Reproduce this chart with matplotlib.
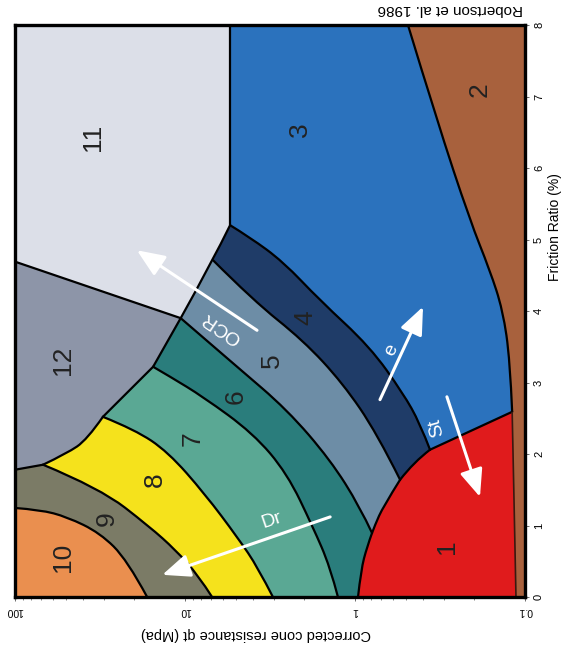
import matplotlib
matplotlib.use("Agg")
import matplotlib.pyplot as plt
from matplotlib.path import Path
from matplotlib.patches import PathPatch

plt.rcParams['font.family'] = ['Liberation Sans', 'DejaVu Sans']

# zone boundaries as (friction ratio %, qt MPa) pairs
b11_3 = [(8.0, 5.43), (5.20, 5.43)]
b11_band = [(5.20, 5.43), (4.71, 6.84), (3.90, 10.6)]
b11_12 = [(3.90, 10.6), (4.69, 100)]
b12_9 = [(1.78, 100), (1.85, 68.4)]
b12_8 = [(1.85, 68.4), (2.01, 49.4), (2.20, 37.7), (2.52, 30.4)]
b12_7 = [(2.52, 30.4), (3.22, 15.4)]
b12_6 = [(3.22, 15.4), (3.90, 10.6)]
b2 = [(8.0, 0.488), (6.67, 0.33), (5.27, 0.211), (4.57, 0.161), (4.01, 0.135),
      (3.31, 0.1225), (2.59, 0.119)]
b2_low = [(2.59, 0.119), (1.36, 0.116), (0, 0.113)]
b13 = [(2.06, 0.362), (2.59, 0.119)]
red_a = [(0, 0.96), (0.38, 0.922), (0.70, 0.85), (0.895, 0.794)]
red_b = [(0.895, 0.794), (1.01, 0.762), (1.26, 0.684), (1.64, 0.543)]
red_c = [(1.64, 0.543), (1.89, 0.45), (2.06, 0.362)]
b43 = [(5.20, 5.43), (5.03, 4.15), (4.69, 2.65), (4.15, 1.61), (3.50, 0.817),
       (2.85, 0.522), (2.43, 0.415), (2.06, 0.362)]
b54 = [(4.71, 6.84), (4.15, 3.98), (3.59, 2.02), (2.99, 1.18), (2.29, 0.743),
       (1.64, 0.543)]
b65 = [(3.90, 10.6), (3.22, 4.94), (2.62, 2.51), (1.92, 1.40), (1.26, 0.935),
       (0.895, 0.794)]
b76 = [(3.22, 15.4), (3.08, 12.2), (2.80, 7.83), (2.29, 3.98), (1.73, 2.51),
       (0.98, 1.77), (0.42, 1.40), (0, 1.26)]
b87 = [(2.52, 30.4), (2.34, 19.7), (2.03, 12.6), (1.44, 7.63), (0.825, 4.88),
       (0.41, 3.72), (0, 3.04)]
b98 = [(1.85, 68.4), (1.52, 31.6), (0.98, 16.1), (0.66, 11.4), (0.31, 8.39), (0, 6.93)]
b109 = [(1.245, 100), (1.22, 71.3), (1.12, 49.4), (0.895, 31.6), (0.52, 21.9), (0, 16.7)]

zone_colors = {
    1: '#e01b1c', 2: '#a8613d', 3: '#2b72bd', 4: '#1f3c68', 5: '#6d8da6',
    6: '#2a7d7c', 7: '#5aa894', 8: '#f5e21c', 9: '#7b7b66', 10: '#ea8f4f',
    11: '#dcdfe8', 12: '#8d95a8',
}

# label positions (Rf, qt)
zone_labels = {
    1: (0.70, 0.288), 2: (7.09, 0.184), 3: (6.53, 2.11), 4: (3.90, 1.97),
    5: (3.31, 3.08), 6: (2.80, 5.01), 7: (2.22, 8.97), 8: (1.64, 15.0),
    9: (1.10, 28.8), 10: (0.56, 52.2), 11: (6.43, 34.8), 12: (3.31, 52.2),
}

# trend arrows: name, tail (Rf, qt), head (Rf, qt), text (Rf, qt), text angle
arrows = [
    ('Dr', (1.12, 1.40), (0.31, 13.6), (1.07, 3.07), 19),
    ('OCR', (3.73, 3.77), (4.85, 19.2), (3.77, 6.06), 146),
    ('e', (2.76, 0.713), (4.06, 0.398), (3.45, 0.615), 65),
    ('St', (2.80, 0.288), (1.40, 0.184), (2.38, 0.33), 105),
]

qt_ticks = [100, 10, 1, 0.1]
qt_ticklabels = ['100', '10', '1', '0.1']
rf_ticks = [0, 1, 2, 3, 4, 5, 6, 7, 8]


def rev(pts):
    return pts[::-1]


def edge(*pts):
    # straight runs along the frame, one chain per side
    return [[pts[i], pts[i + 1]] for i in range(len(pts) - 1)]


def xy(p):
    # plot x is qt, plot y is Rf
    return (p[1], p[0])


def mid(a, b):
    # midpoint on the log qt axis
    return ((a[0] * b[0]) ** 0.5, (a[1] + b[1]) / 2)


def chain_codes(pts):
    # smooth chain through the points, as quadratic curve pieces
    pts = [xy(p) for p in pts]
    if len(pts) == 2:
        return [pts[1]], [Path.LINETO]
    verts, codes = [], []
    for i in range(1, len(pts) - 1):
        end = pts[i + 1] if i == len(pts) - 2 else mid(pts[i], pts[i + 1])
        verts += [pts[i], end]
        codes += [Path.CURVE3, Path.CURVE3]
    return verts, codes


def chain_path(chains, closed=False):
    verts, codes = [xy(chains[0][0])], [Path.MOVETO]
    for c in chains:
        v, k = chain_codes(c)
        verts += v
        codes += k
    if closed:
        verts.append(verts[0])
        codes.append(Path.CLOSEPOLY)
    return Path(verts, codes)


zones = {
    11: edge((8.0, 100), (8.0, 5.43)) + [b11_3, b11_band, b11_12]
        + edge((4.69, 100), (8.0, 100)),
    12: [b12_9, b12_8, b12_7, b12_6, b11_12] + edge((4.69, 100), (1.78, 100)),
    3: edge((8.0, 5.43), (8.0, 0.488)) + [b2, rev(b13), rev(b43)],
    2: [b2, b2_low] + edge((0, 0.113), (0, 0.1), (8.0, 0.1), (8.0, 0.488)),
    1: [red_a, red_b, red_c, b13, b2_low] + edge((0, 0.113), (0, 0.96)),
    4: [b43, rev(red_c), rev(b54)] + edge((4.71, 6.84), (5.20, 5.43)),
    5: [b54, rev(red_b), rev(b65)] + edge((3.90, 10.6), (4.71, 6.84)),
    6: [b65, rev(red_a)] + edge((0, 0.96), (0, 1.26)) + [rev(b76), rev(b12_6)],
    7: [b76] + edge((0, 1.26), (0, 3.04)) + [rev(b87), rev(b12_7)],
    8: [b87] + edge((0, 3.04), (0, 6.93)) + [rev(b98), b12_8],
    9: [b98] + edge((0, 6.93), (0, 16.7)) + [rev(b109)]
       + edge((1.245, 100), (1.78, 100)) + [b12_9],
    10: [b109] + edge((0, 16.7), (0, 100), (1.245, 100)),
}

fig = plt.figure(figsize=(5.72, 6.52), dpi=100)
ax = fig.add_axes([15 / 572, 55 / 652, 510 / 572, 572 / 652])
ax.set_xscale('log')
ax.set_xlim(100, 0.1)
ax.set_ylim(0, 8)

for z, chains in zones.items():
    ax.add_patch(PathPatch(chain_path(chains, closed=True), facecolor=zone_colors[z],
                           edgecolor=zone_colors[z], lw=0.5, zorder=1))

for line in [b11_3, b11_band, b11_12, b12_9, b12_8, b12_7, b12_6, b2, b13,
             red_a, red_b, red_c, b43, b54, b65, b76, b87, b98, b109]:
    ax.add_patch(PathPatch(chain_path([line]), facecolor='none', edgecolor='black',
                           lw=1.6, zorder=2, capstyle='round', joinstyle='round'))
ax.add_patch(PathPatch(chain_path([b2_low]), facecolor='none', edgecolor='#3a1a10',
                       lw=1.2, zorder=2))

for z, (rf, qt) in zone_labels.items():
    ax.text(qt, rf, str(z), rotation=90, fontsize=19, color='#222222',
            ha='center', va='center', zorder=4)

for name, tail, head, tpos, ang in arrows:
    ax.annotate('', xy=xy(head), xytext=xy(tail),
                arrowprops=dict(arrowstyle='-|>,head_length=1.2,head_width=0.5',
                                mutation_scale=14, color='white', lw=2.2,
                                shrinkA=0, shrinkB=0),
                zorder=5)
    ax.text(tpos[1], tpos[0], name, rotation=ang, fontsize=14, color='white',
            ha='center', va='center', rotation_mode='anchor', zorder=5)

ax.set_xticks(qt_ticks)
ax.set_xticklabels(qt_ticklabels, rotation=180, fontsize=7.5)
ax.set_yticks(rf_ticks)
ax.set_yticklabels([str(v) for v in rf_ticks], rotation=90, fontsize=8,
                   va='center')
ax.yaxis.tick_right()
ax.yaxis.set_label_position('right')
ax.tick_params(axis='both', which='major', length=3, width=0.6, color='#555555')
ax.tick_params(axis='x', which='minor', length=2, width=0.5, color='#555555')

ax.set_xlabel('Corrected cone resistance qt (Mpa)', rotation=180, fontsize=10.5,
              va='center')
ax.xaxis.set_label_coords(0.473, -0.064)
ax.set_ylabel('Friction Ratio (%)', rotation=90, fontsize=10, va='center')
ax.yaxis.set_label_coords(1.059, 5.17 / 8)

for s in ax.spines.values():
    s.set_linewidth(2.4)
    s.set_zorder(6)

fig.text(450 / 572, 1 - 9 / 652, 'Robertson et al. 1986', rotation=180,
         fontsize=11, ha='center', va='center')

fig.savefig('out.png', dpi=100)
